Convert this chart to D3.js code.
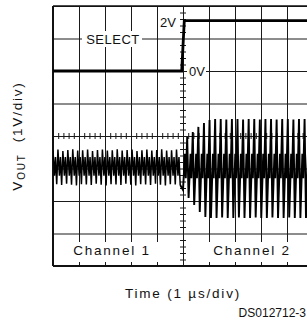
<!DOCTYPE html>
<html>
<head>
<meta charset="utf-8">
<script src="https://cdn.jsdelivr.net/npm/d3@7"></script>
<style>
  body { margin: 0; background: #fff; }
  svg { display: block; }
  text { font-family: "Liberation Sans Narrow", "Liberation Sans", Arial, sans-serif; fill: #111; }
</style>
</head>
<body>
<div id="scope"></div>
<script>
// grid in divisions: 10 across (1 us/div), 8 down (1 V/div)
const gridX = [0, 1, 2, 3, 4, 5, 6, 7, 8, 9, 10]
const gridY = [-4, -3, -2, -1, 0, 1, 2, 3, 4]

// SELECT trace (time us, volts)
const selTime = [0, 4.95, 5.05, 10]
const selVolts = [0, 0, 2, 2]
const selLabels = ["0V", "2V"]

// VOUT channel 1: peaks / troughs per cycle (div), period 0.19us
const ch1Period = 0.19
const ch1Hi = [-0.45, -0.42, -0.46, -0.43, -0.41, -0.45, -0.44, -0.42, -0.46, -0.43, -0.42, -0.45, -0.44,
               -0.41, -0.45, -0.43, -0.42, -0.46, -0.44, -0.42, -0.45, -0.43, -0.41, -0.45, -0.44, -0.42]
const ch1Lo = [-1.48, -1.51, -1.47, -1.50, -1.52, -1.48, -1.49, -1.51, -1.47, -1.50, -1.52, -1.48, -1.49,
               -1.51, -1.47, -1.50, -1.52, -1.48, -1.49, -1.51, -1.47, -1.50, -1.52, -1.48, -1.49, -1.51]
const ch1Band = [-0.65, -1.22]

// VOUT channel 2: starts at 5us, envelope grows over ~1us, period 0.215us
const ch2Start = 5.0
const ch2Period = 0.215
const ch2Hi = [-0.03, 0.12, 0.28, 0.40, 0.49, 0.52, 0.52, 0.51, 0.52, 0.52, 0.51, 0.52,
               0.52, 0.51, 0.52, 0.52, 0.51, 0.52, 0.52, 0.51, 0.52, 0.52, 0.52]
const ch2Lo = [-1.66, -1.91, -2.12, -2.34, -2.49, -2.52, -2.52, -2.51, -2.52, -2.52, -2.51, -2.52,
               -2.52, -2.51, -2.52, -2.52, -2.51, -2.52, -2.52, -2.51, -2.52, -2.52, -2.52]
const ch2Band = [-0.55, -1.30]

const W = 307, H = 320
const pl = 53, pt = 6, pr = 313, pb = 266 // plot box edges

const svg = d3.select("#scope").append("svg").attr("width", W).attr("height", H)

const x = d3.scaleLinear().domain([0, 10]).range([pl, pr])
const y = d3.scaleLinear().domain([-4, 4]).range([pb, pt])
const ySel = d3.scaleLinear().domain([0, 2]).range([y(2), y(3.55)])

svg.append("clipPath").attr("id", "plot")
   .append("rect").attr("x", pl).attr("y", pt).attr("width", pr - pl).attr("height", pb - pt)

// grid via axes
svg.append("g")
   .attr("transform", `translate(0,${pb})`)
   .call(d3.axisBottom(x).tickValues(gridX).tickSize(-(pb - pt)).tickFormat(""))
   .call(g => g.select(".domain").remove())
   .call(g => g.selectAll("line").attr("stroke", "#1a1a1a").attr("stroke-width", 1))
svg.append("g")
   .attr("transform", `translate(${pl},0)`)
   .call(d3.axisLeft(y).tickValues(gridY).tickSize(-(pr - pl)).tickFormat(""))
   .call(g => g.select(".domain").remove())
   .call(g => g.selectAll("line").attr("stroke", "#1a1a1a").attr("stroke-width", 1))

// minor ticks on the centre lines
const minorY = d3.range(-4, 4.01, 0.2).filter(v => Math.abs(v - Math.round(v)) > 0.01)
const minorX = d3.range(0, 10.01, 0.2).filter(v => Math.abs(v - Math.round(v)) > 0.01)
svg.append("g")
   .attr("transform", `translate(${x(5) + 3},0)`)
   .call(d3.axisLeft(y).tickValues(minorY).tickSize(6).tickFormat(""))
   .call(g => g.select(".domain").remove())
   .call(g => g.selectAll("line").attr("stroke", "#1a1a1a"))
svg.append("g")
   .attr("transform", `translate(0,${y(0) + 3})`)
   .call(d3.axisTop(x).tickValues(minorX).tickSize(6).tickFormat(""))
   .call(g => g.select(".domain").remove())
   .call(g => g.selectAll("line").attr("stroke", "#1a1a1a"))

// masks behind labels (the scope labels blank out the graticule)
svg.append("rect").attr("x", pl + 1).attr("y", 242).attr("width", x(5) - pl - 4).attr("height", 20).attr("fill", "#fff")
svg.append("rect").attr("x", x(5) + 3).attr("y", 242).attr("width", pr - x(5)).attr("height", 20).attr("fill", "#fff")
svg.append("rect").attr("x", 82).attr("y", 31).attr("width", 60).attr("height", 16).attr("fill", "#fff")
svg.append("rect").attr("x", x(5) + 4).attr("y", 64).attr("width", 19).attr("height", 14).attr("fill", "#fff")

// frame
svg.append("line").attr("x1", pl).attr("x2", pr).attr("y1", pt).attr("y2", pt)
   .attr("stroke", "#111").attr("stroke-width", 1.5)
svg.append("line").attr("x1", pl).attr("x2", pr).attr("y1", pb).attr("y2", pb)
   .attr("stroke", "#111").attr("stroke-width", 2)
svg.append("line").attr("x1", pl).attr("x2", pl).attr("y1", pt).attr("y2", pb)
   .attr("stroke", "#111").attr("stroke-width", 2)

// SELECT trace
const selLine = d3.line().x(d => x(d[0])).y(d => ySel(d[1]))
svg.append("path")
   .datum(selTime.map((t, i) => [t, selVolts[i]]))
   .attr("d", selLine)
   .attr("clip-path", "url(#plot)")
   .attr("fill", "none").attr("stroke", "#000").attr("stroke-width", 2.8)

// VOUT trace, channel 1 then channel 2
const vout1 = [], vout2 = []
ch1Hi.forEach((hi, i) => {
  const t0 = i * ch1Period
  vout1.push([t0, hi], [t0 + ch1Period * 0.3, ch1Band[1]], [t0 + ch1Period * 0.5, ch1Band[0]], [t0 + ch1Period * 0.75, ch1Lo[i]])
})
vout2.push(vout1[vout1.length - 1])
ch2Hi.forEach((hi, i) => {
  const t0 = ch2Start + i * ch2Period
  vout2.push([t0, ch2Lo[i]], [t0 + ch2Period * 0.35, ch2Band[0]], [t0 + ch2Period * 0.5, ch2Band[1]], [t0 + ch2Period * 0.75, hi])
})
const voutLine = d3.line().x(d => x(d[0])).y(d => y(d[1]))
svg.append("path").datum(vout1).attr("d", voutLine)
   .attr("clip-path", "url(#plot)")
   .attr("fill", "none").attr("stroke", "#000").attr("stroke-width", 1.5)
svg.append("path").datum(vout2).attr("d", voutLine)
   .attr("clip-path", "url(#plot)")
   .attr("fill", "none").attr("stroke", "#000").attr("stroke-width", 1.9)

// labels
svg.append("text").attr("x", 113).attr("y", 44).attr("text-anchor", "middle")
   .attr("font-size", 13).attr("letter-spacing", 0.5).text("SELECT")
svg.append("text").attr("x", 176).attr("y", 27).attr("text-anchor", "end")
   .attr("font-size", 13).text(selLabels[1])
svg.append("text").attr("x", 189).attr("y", 76)
   .attr("font-size", 13).text(selLabels[0])
svg.append("text").attr("x", 112).attr("y", 255).attr("text-anchor", "middle")
   .attr("font-size", 13.5).attr("letter-spacing", 1.8).text("Channel 1")
svg.append("text").attr("x", 252).attr("y", 255).attr("text-anchor", "middle")
   .attr("font-size", 13.5).attr("letter-spacing", 1.8).text("Channel 2")

svg.append("text").attr("x", 183).attr("y", 298).attr("text-anchor", "middle")
   .attr("font-size", 13.5).attr("letter-spacing", 1.8).attr("xml:space", "preserve")
   .text("Time (1 \u00b5s/div)")
svg.append("text").attr("x", 306).attr("y", 317).attr("text-anchor", "end")
   .style("font-family", "'Liberation Sans', Arial, sans-serif")
   .attr("font-size", 12).text("DS012712-3")

const yl = svg.append("text").attr("transform", "translate(22,136) rotate(-90)")
   .attr("text-anchor", "middle").attr("font-size", 13.5).attr("letter-spacing", 1.8)
yl.append("tspan").text("V")
yl.append("tspan").attr("font-size", 10).attr("dy", 3).text("OUT")
yl.append("tspan").attr("dy", -3).text("  (1V/div)").attr("xml:space", "preserve")
</script>
</body>
</html>
